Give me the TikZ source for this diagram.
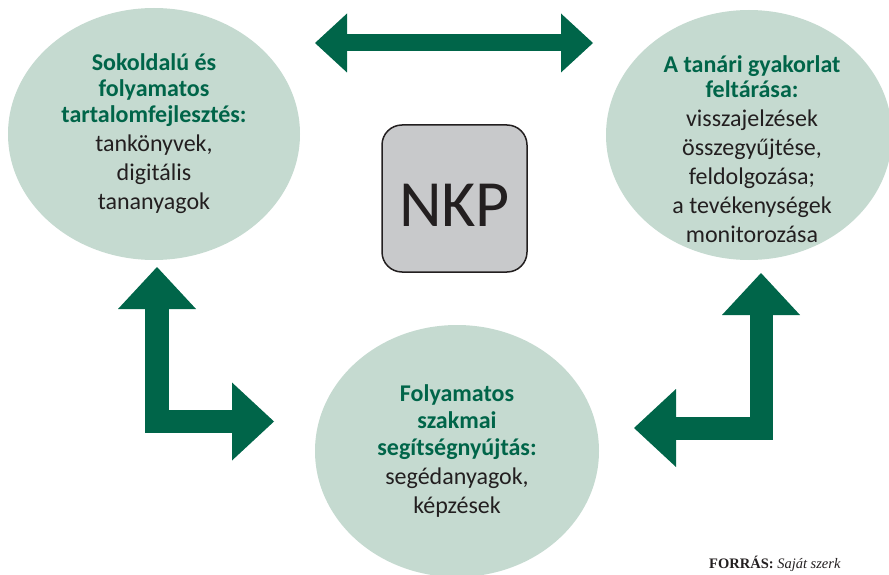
\documentclass[tikz,border=0pt]{standalone}
\usepackage{fontspec}
\setmainfont{Carlito}
\newfontfamily\forrasfont{Liberation Serif}
\usepackage{xcolor}
\usepackage{tikz}
\usetikzlibrary{arrows.meta,shapes.geometric}
\definecolor{nkpgreen}{RGB}{0,101,73}
\definecolor{ellfill}{RGB}{197,218,208}
\definecolor{ink}{RGB}{35,31,32}
\definecolor{boxgray}{RGB}{200,201,203}
\newcommand\hd[1]{\textcolor{nkpgreen}{\textbf{#1}}}

\begin{document}
\begin{tikzpicture}[x=1pt,y=-1pt,
  ell/.style={ellipse,fill=ellfill,inner sep=0pt},
  txt/.style={align=center,text=ink,inner sep=0pt,font=\fontsize{24}{29}\selectfont},
  toptip/.tip={Triangle[length=32pt,width=59pt,line width=0pt]},
  elltip/.tip={Triangle[length=42pt,width=78pt,line width=0pt]}]
  \useasboundingbox (0,0) rectangle (889,575);
  \node[ell,txt,minimum width=292,minimum height=252] (sokold) at (154,134) {\hd{Sokoldalú és}\\[-3pt]\hd{folyamatos}\\[-3pt]\hd{tartalomfejlesztés:}\\tankönyvek,\\digitális\\tananyagok};
  \node[ell,minimum width=286,minimum height=250] (tanari) at (749,135) {};
  \node[txt] (tanaritxt) at (752,149) {\hd{A tanári gyakorlat}\\[-4pt]\hd{feltárása:}\\visszajelzések\\összegyűjtése,\\feldolgozása;\\a tevékenységek\\monitorozása};
  \node[ell,txt,minimum width=284,minimum height=252] (szakmai) at (457,451) {\hd{Folyamatos}\\[-2pt]\hd{szakmai}\\[-2pt]\hd{segítségnyújtás:}\\segédanyagok,\\képzések};
  \node[draw=ink,line width=1.5pt,fill=boxgray,rounded corners=20pt,minimum width=145,minimum height=147,text=ink,text height=55.5pt,text depth=0pt,font=\fontsize{66}{66}\selectfont] (nkp) at (454.5,198.5) {NKP};
  \coordinate (tl) at (315,43); \coordinate (tr) at (593,43);
  \coordinate (lu) at (157,267); \coordinate (lr) at (274,421.5);
  \coordinate (ru) at (761,273); \coordinate (rl) at (634,428);
  \draw[nkpgreen,line width=17pt,toptip-toptip] (tl) -- (tr);
  \draw[nkpgreen,line width=23.5pt,elltip-elltip] (lu) |- (lr);
  \draw[nkpgreen,line width=23pt,elltip-elltip] (ru) |- (rl);
  \node[anchor=base west,inner sep=0pt,text=ink,font=\forrasfont\fontsize{14.5}{16}\selectfont] (forras) at (709,568) {\textbf{FORRÁS:} \textit{Saját szerk}};
\end{tikzpicture}
\end{document}
